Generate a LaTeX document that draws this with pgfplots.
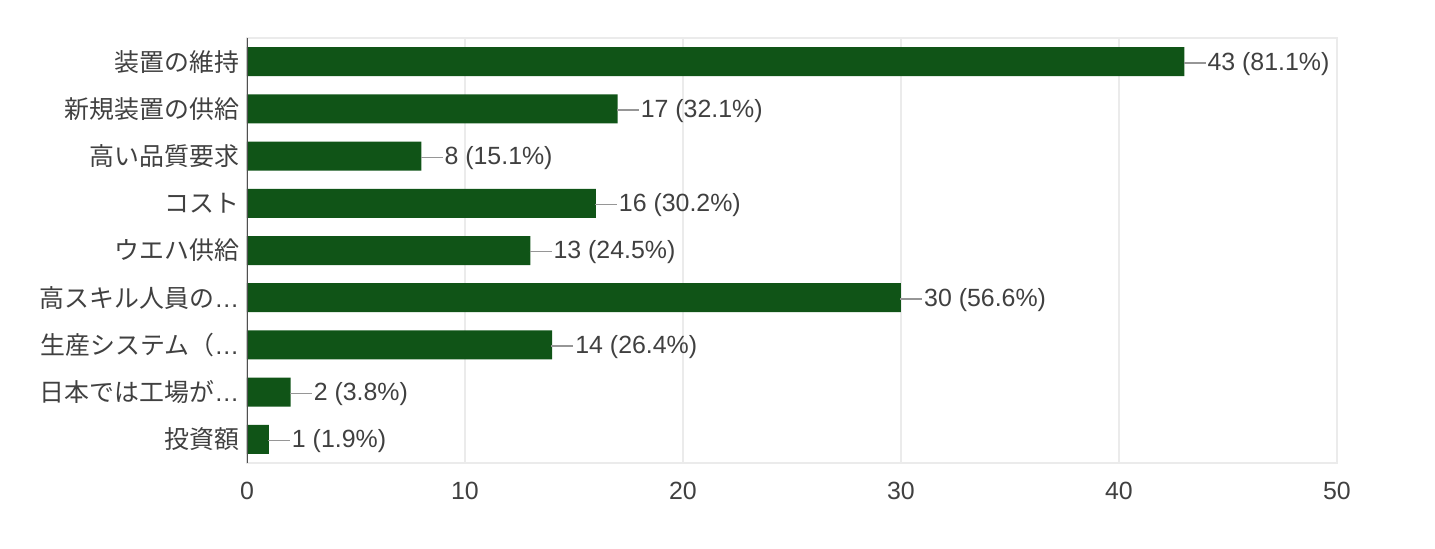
\documentclass[border=0pt]{standalone}
\usepackage{fontspec}
\setmainfont{Liberation Sans}
\newfontfamily\cjk{Noto Sans CJK JP}
\usepackage{pgfplots}
\pgfplotsset{compat=1.18}
\definecolor{bargreen}{RGB}{16,84,23}
\definecolor{txt}{RGB}{64,64,64}
\definecolor{gridc}{RGB}{235,235,235}
\definecolor{conn}{RGB}{150,150,150}
\definecolor{axdark}{RGB}{80,80,80}
\begin{document}
\begin{tikzpicture}
\path[use as bounding box] (-247bp,-86bp) rectangle (1188bp,463bp);
\begin{axis}[
  at={(0,0)}, anchor=south west,
  scale only axis, width=1090bp, height=425bp,
  xmin=0, xmax=50, ymin=-0.5, ymax=8.5,
  xbar, bar width=29bp,
  xtick={0,10,20,30,40,50},
  ytick={0,1,2,3,4,5,6,7,8},
  yticklabels={{\cjk 投資額},{\cjk 日本では工場が}…,{\cjk 生産システム（}…,{\cjk 高スキル人員の}…,{\cjk ウエハ供給},{\cjk コスト},{\cjk 高い品質要求},{\cjk 新規装置の供給},{\cjk 装置の維持}},
  xmajorgrids, grid style={gridc, line width=1.5bp},
  axis line style={gridc, line width=1.5bp},
  tick style={draw=none},
  ticklabel style={font=\fontsize{25}{30}\selectfont, text=txt},
  xticklabel style={yshift=-16bp},
  /pgf/number format/assume math mode=true,
  point meta=explicit symbolic,
  nodes near coords={\textcolor{conn}{\rule[6.5bp]{22bp}{1.5bp}}\hspace{2bp}\pgfplotspointmeta},
  every node near coord/.append style={anchor=west, inner sep=0pt, xshift=-1bp, yshift=-2bp, font=\fontsize{25}{30}\selectfont, text=txt},
]
\addplot[fill=bargreen, draw=none] coordinates {
  (43,8) [43 (81.1\%)]
  (17,7) [17 (32.1\%)]
  (8,6)  [8 (15.1\%)]
  (16,5) [16 (30.2\%)]
  (13,4) [13 (24.5\%)]
  (30,3) [30 (56.6\%)]
  (14,2) [14 (26.4\%)]
  (2,1)  [2 (3.8\%)]
  (1,0)  [1 (1.9\%)]
};
\draw[axdark, line width=2bp] (axis cs:0,-0.5) -- (axis cs:0,8.5);
\end{axis}
\end{tikzpicture}
\end{document}
